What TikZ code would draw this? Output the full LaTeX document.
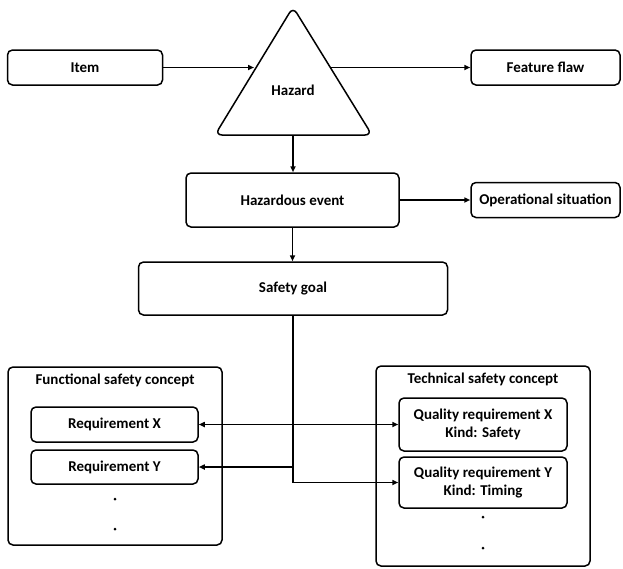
\documentclass[tikz,border=0pt]{standalone}
\usepackage{fontspec}
\setmainfont{Carlito}
\usetikzlibrary{arrows.meta}
\begin{document}
\begin{tikzpicture}[x=1pt,y=-1pt,
  every node/.style={font=\fontsize{15}{18}\selectfont\bfseries},
  box/.style={draw,line width=1.5pt,rounded corners=5pt,inner sep=0pt,align=center},
  ln/.style={line width=1.5pt},
  arr/.style={line width=1.5pt,-{Triangle[length=6pt,width=5pt]}},
  darr/.style={line width=1.5pt,{Triangle[length=6pt,width=5pt]}-{Triangle[length=6pt,width=5pt]}},
  dotn/.style={circle,fill,inner sep=0pt,minimum size=3pt}]
\useasboundingbox (0,0) rectangle (623,568);
% top row
\node[box,minimum width=155pt,minimum height=35pt] (item) at (85,67.5) {Item};
\node[box,minimum width=149pt,minimum height=35pt] (ff) at (545.5,67.5) {Feature flaw};
\draw[ln,rounded corners=7pt] (293,7) -- (372,135) -- (215,135) -- cycle;
\node (hz) at (293,90) {Hazard};
\coordinate (hzl) at (254,67.5);
\coordinate (hzr) at (331,67.5);
\coordinate (hzb) at (293,135);
% middle
\node[box,minimum width=213pt,minimum height=54pt] (he) at (292.5,200) {Hazardous event};
\node[box,minimum width=149pt,minimum height=35pt] (op) at (545.5,200) {Operational situation};
\node[box,minimum width=309pt,minimum height=53pt] (sg) at (293,288.5) {Safety goal};
% left group
\node[box,minimum width=214pt,minimum height=178pt] (fsc) at (115,456) {};
\node (fsct) at (115,380) {Functional safety concept};
\node[box,minimum width=167pt,minimum height=35pt] (rx) at (114.5,424.5) {Requirement X};
\node[box,minimum width=167pt,minimum height=34pt] (ry) at (114.5,467) {Requirement Y};
\node[dotn] (fd1) at (115,499) {};
\node[dotn] (fd2) at (115,529) {};
% right group
\node[box,minimum width=214pt,minimum height=200pt] (tsc) at (483,466) {};
\node (tsct) at (483,379) {Technical safety concept};
\node[box,minimum width=168pt,minimum height=53pt] (qx) at (483,424.5) {Quality requirement X\\Kind: Safety};
\node[box,minimum width=168pt,minimum height=51pt] (qy) at (483,482.5) {Quality requirement Y\\Kind: Timing};
\node[dotn] (td1) at (483,517) {};
\node[dotn] (td2) at (483,548) {};
% connectors
\draw[arr] (item.east) -- (hzl);
\draw[arr] (hzr) -- (hzr -| ff.west);
\draw[arr] (hzb) -- (hzb |- he.north);
\draw[arr] (he.east) -- (he.east -| op.west);
\draw[arr] (he.south) -- (he.south |- sg.north);
\draw[arr] (sg.south) -- (sg.south |- qy.west) -- (qy.west);
\draw[arr] (sg.south |- ry.east) -- (ry.east);
\draw[darr] (rx.east) -- (qx.west);
\end{tikzpicture}
\end{document}
